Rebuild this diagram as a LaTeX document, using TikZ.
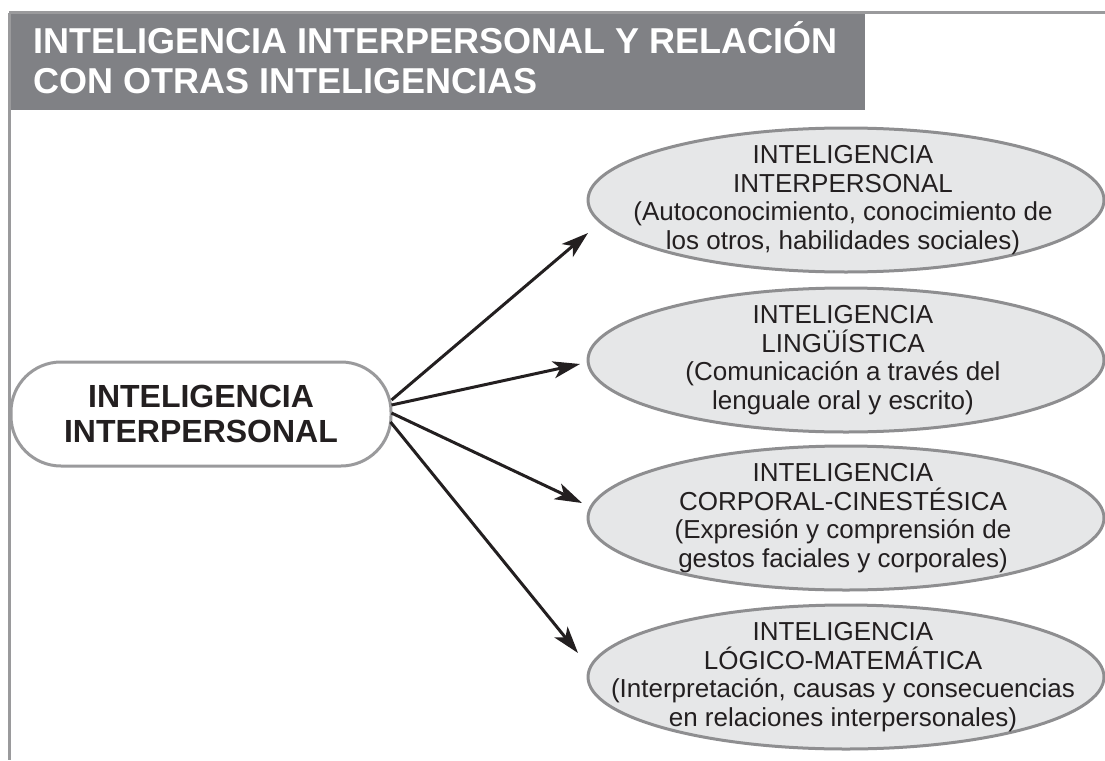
\documentclass[tikz,border=0pt]{standalone}
\usepackage{fontspec}
\setmainfont{Liberation Sans}
\usetikzlibrary{arrows.meta,calc,shapes.geometric}
\definecolor{titlegray}{HTML}{808185}
\definecolor{framegray}{HTML}{9A9A9C}
\definecolor{ellfill}{HTML}{E6E7E8}
\definecolor{ellline}{HTML}{8E8E90}
\definecolor{inkblack}{HTML}{231F20}
\tikzset{
  frameline/.style={draw=framegray,line width=3pt},
  titletext/.style={anchor=base west,text=white,font=\bfseries\fontsize{36}{40}\selectfont,inner sep=0pt},
  mainbox/.style={draw=framegray,line width=3pt,fill=white,rounded corners=50pt,minimum width=380pt,minimum height=104pt,align=center,inner sep=0pt,text=inkblack,font=\bfseries\fontsize{32}{35}\selectfont},
  intel/.style={ellipse,draw=ellline,line width=3pt,fill=ellfill,minimum width=516pt,minimum height=144pt,inner sep=0pt},
  inteltext/.style={inner sep=0pt,align=center,text=inkblack,font=\fontsize{26}{28.5}\selectfont},
  conn/.style={draw=inkblack,line width=3pt,-{Stealth[length=27pt,width=17pt,inset=7pt]}}
}
\begin{document}
\begin{tikzpicture}[x=1pt,y=-1pt]
\useasboundingbox (0,0) rectangle (1105,760);
% frame
\draw[frameline] (9,13) coordinate (fa) -- (1105,13) coordinate (fb);
\draw[frameline] (9,13) coordinate (fc) -- (9,760) coordinate (fd);
\fill[titlegray] (10.5,14.5) rectangle (865,110);
\node[titletext] (t1) at (33,53) {INTELIGENCIA INTERPERSONAL Y RELACIÓN};
\node[titletext] (t2) at (33,93) {CON OTRAS INTELIGENCIAS};
% main node
\node[mainbox] (L) at (201,414) {INTELIGENCIA\\INTERPERSONAL};
% ellipses
\node[intel] (e1) at (846,200) {};
\node[intel] (e2) at (846,360) {};
\node[intel] (e3) at (846,518) {};
\node[intel] (e4) at (846,677) {};
\node[inteltext] (e1t) at ($(e1.center)+(-3,0)$) {INTELIGENCIA\\INTERPERSONAL\\(Autoconocimiento, conocimiento de\\los otros, habilidades sociales)};
\node[inteltext] (e2t) at ($(e2.center)+(-3,0)$) {INTELIGENCIA\\LINGÜÍSTICA\\(Comunicación a través del\\lenguale oral y escrito)};
\node[inteltext] (e3t) at ($(e3.center)+(-3,0)$) {INTELIGENCIA\\CORPORAL-CINESTÉSICA\\(Expresión y comprensión de\\gestos faciales y corporales)};
\node[inteltext] (e4t) at ($(e4.center)+(-3,0)$) {INTELIGENCIA\\LÓGICO-MATEMÁTICA\\(Interpretación, causas y consecuencias\\en relaciones interpersonales)};
% arrow tips
\coordinate (p1) at (588,233);
\coordinate (p2) at (580,364);
\coordinate (p3) at (582,503);
\coordinate (p4) at (578,653);
\draw[conn] ($(L.east)+(-1,-14)$) -- (p1);
\draw[conn] ($(L.east)+(-1,-9)$) -- (p2);
\draw[conn] ($(L.east)+(-1,-1)$) -- (p3);
\draw[conn] ($(L.east)+(-2,8)$) -- (p4);
\end{tikzpicture}
\end{document}
